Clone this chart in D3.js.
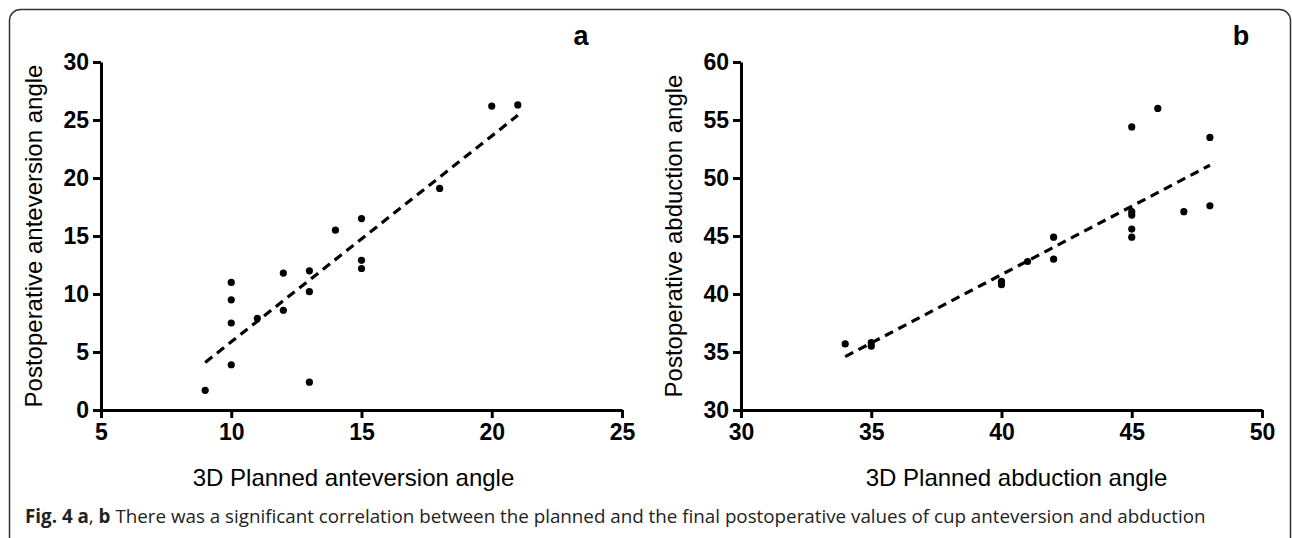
<!DOCTYPE html>
<html>
<head>
<meta charset="utf-8">
<script src="https://cdn.jsdelivr.net/npm/d3@7"></script>
<style>
  body { margin: 0; background: #fff; }
  text { font-family: "Liberation Sans", Arial, sans-serif; }
</style>
</head>
<body>
<script>
// panel a: anteversion
const anteX = [9, 10, 10, 10, 10, 11, 12, 12, 13, 13, 13, 14, 15, 15, 15, 18, 20, 21];
const anteY = [1.7, 11.0, 9.5, 7.5, 3.9, 7.9, 11.8, 8.6, 12.0, 10.2, 2.4, 15.5, 16.5, 12.9, 12.2, 19.1, 26.2, 26.3];
const anteFit = [[9, 4.1], [21, 25.4]];
const anteXTicks = [5, 10, 15, 20, 25];
const anteYTicks = [0, 5, 10, 15, 20, 25, 30];

// panel b: abduction
const abdX = [34, 35, 35, 40, 40, 41, 42, 42, 45, 45, 45, 45, 45, 46, 47, 48, 48];
const abdY = [35.7, 35.8, 35.5, 41.1, 40.8, 42.8, 44.9, 43.0, 54.4, 47.1, 46.8, 45.6, 44.9, 56.0, 47.1, 53.5, 47.6];
const abdFit = [[34, 34.6], [48, 51.1]];
const abdXTicks = [30, 35, 40, 45, 50];
const abdYTicks = [30, 35, 40, 45, 50, 55, 60];

const svg = d3.select("body").append("svg").attr("width", 1292).attr("height", 538);

// frame
svg.append("rect")
   .attr("x", 9.5).attr("y", 9.5)
   .attr("width", 1281).attr("height", 540)
   .attr("rx", 11)
   .attr("fill", "none")
   .attr("stroke", "#333")
   .attr("stroke-width", 1.5);

const width = 521;
const height = 348;

function drawPanel(left, xs, ys, fit, xTicks, yTicks, xTitle, yTitle, titleShift, letter, letterX) {
        const g = svg.append("g").attr("transform", `translate(${left}, 62)`);

        const xScale = d3.scaleLinear().domain(d3.extent(xTicks)).range([0, width]);
        const yScale = d3.scaleLinear().domain(d3.extent(yTicks)).range([height, 0]);

        const xAxis = d3.axisBottom(xScale).tickValues(xTicks).tickSize(8).tickSizeOuter(0).tickPadding(5);
        const yAxis = d3.axisLeft(yScale).tickValues(yTicks).tickSize(8).tickSizeOuter(0).tickPadding(4);

        const ax = g.append("g").attr("transform", `translate(0, ${height})`).call(xAxis);
        const ay = g.append("g").call(yAxis);
        [ax, ay].forEach((a) => {
                a.selectAll("path, line").attr("stroke", "#000").attr("stroke-width", 3);
                a.selectAll("text")
                 .attr("fill", "#000")
                 .style("font-size", "23px")
                 .style("font-weight", "bold");
        });
        ax.selectAll("text").attr("dy", "0.75em");

        // fit line
        const lineGenerator = d3.line().x((a) => xScale(a[0])).y((a) => yScale(a[1]));
        g.append("path")
         .attr("d", lineGenerator(fit))
         .attr("fill", "none")
         .attr("stroke", "#000")
         .attr("stroke-width", 3.2)
         .attr("stroke-dasharray", "9,6");

        // points
        g.selectAll("circle")
         .data(xs.map((x, i) => [x, ys[i]])).enter()
         .append("circle")
         .attr("cx", (o) => xScale(o[0]))
         .attr("cy", (o) => yScale(o[1]))
         .attr("r", 3.6)
         .attr("fill", "#000");

        // titles
        g.append("text")
         .attr("x", width / 2 + titleShift).attr("y", height + 76)
         .attr("text-anchor", "middle")
         .style("font-size", "24px")
         .text(xTitle);
        g.append("text")
         .attr("transform", `translate(-59, ${height / 2}) rotate(-90)`)
         .attr("text-anchor", "middle")
         .style("font-size", "24px")
         .text(yTitle);

        g.append("text")
         .attr("x", letterX - left).attr("y", -17)
         .attr("text-anchor", "middle")
         .style("font-size", "27px")
         .style("font-weight", "bold")
         .text(letter);
}

drawPanel(101, anteX, anteY, anteFit, anteXTicks, anteYTicks,
          "3D Planned anteversion angle", "Postoperative anteversion angle", -8, "a", 581);
drawPanel(741, abdX, abdY, abdFit, abdXTicks, abdYTicks,
          "3D Planned abduction angle", "Postoperative abduction angle", 15, "b", 1241);

// caption
const cap = svg.append("text")
               .attr("x", 25).attr("y", 523)
               .attr("fill", "#222")
               .style("font-family", "'Open Sans', sans-serif")
               .style("font-size", "18.8px");
cap.append("tspan").style("font-weight", "bold").text("Fig. 4 a");
cap.append("tspan").text(", ");
cap.append("tspan").style("font-weight", "bold").text("b");
cap.append("tspan").text(" There was a significant correlation between the planned and the final postoperative values of cup anteversion and abduction");
</script>
</body>
</html>
